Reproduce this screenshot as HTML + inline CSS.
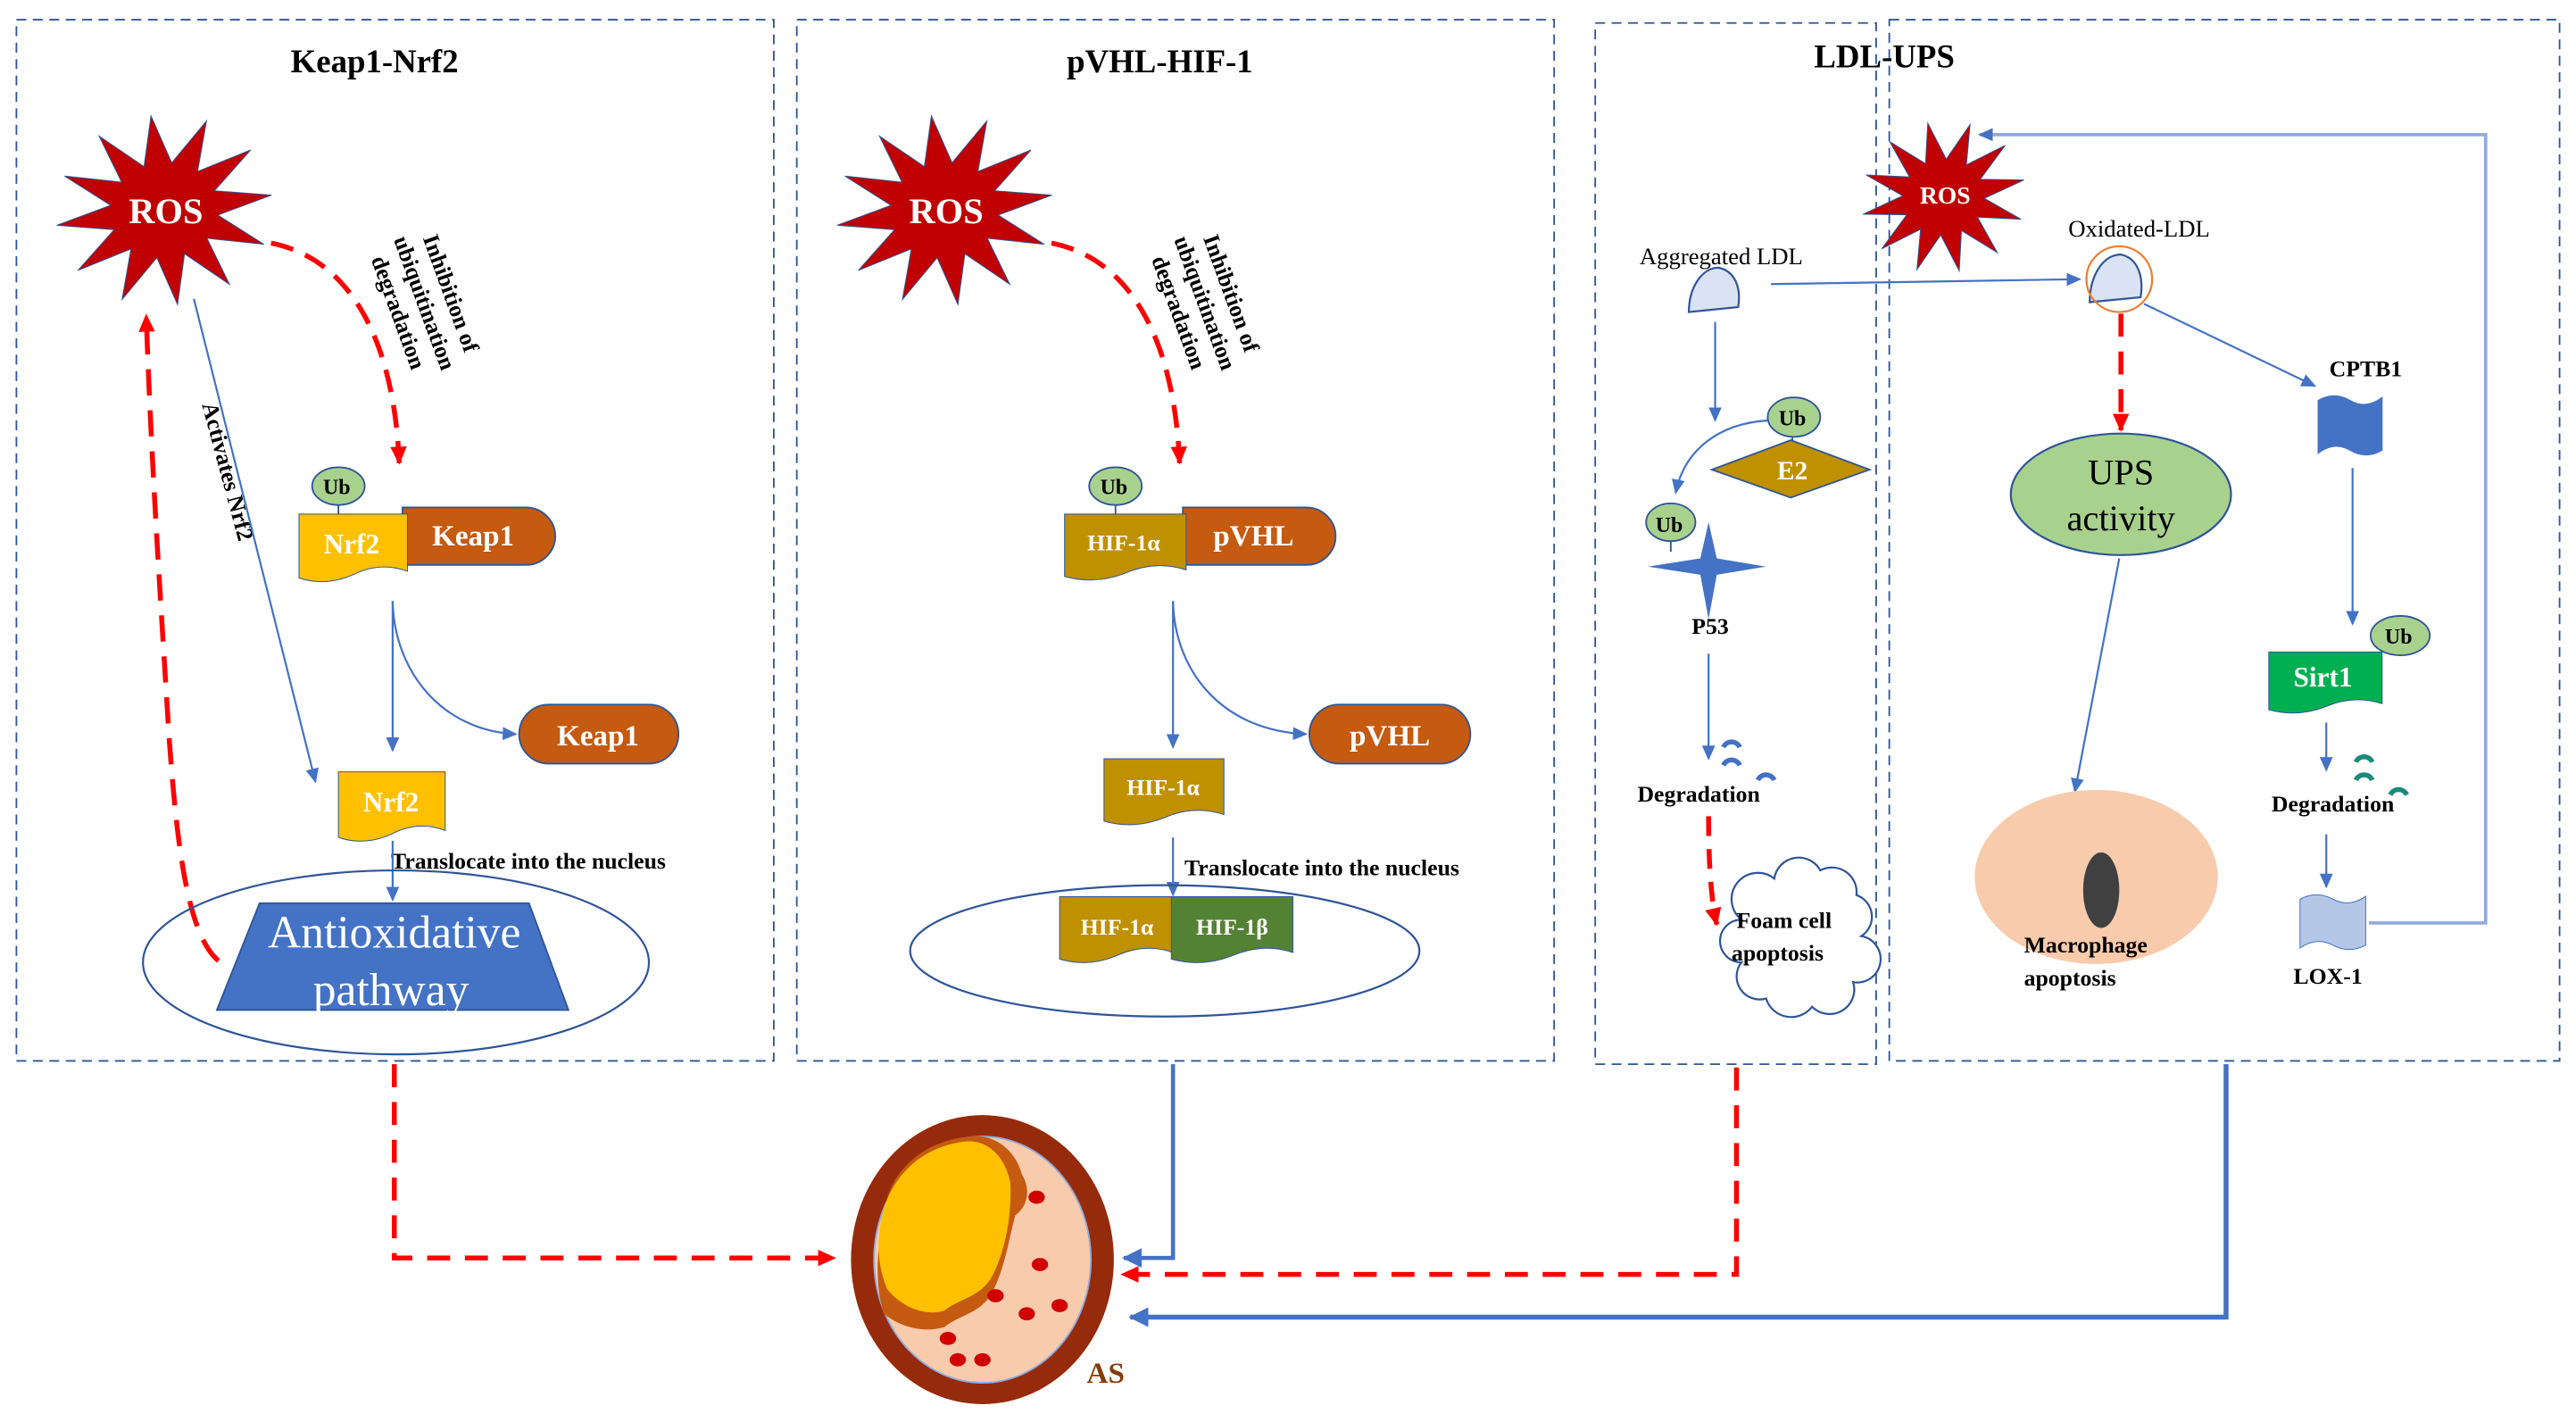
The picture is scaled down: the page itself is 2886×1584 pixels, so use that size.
<!DOCTYPE html>
<html><head><meta charset="utf-8"><style>
html,body{margin:0;padding:0;background:#fff;}
svg{display:block;}
text{font-family:"Liberation Serif",serif;}
</style></head><body>
<svg width="2886" height="1584" viewBox="0 0 1568 861" preserveAspectRatio="none" xmlns="http://www.w3.org/2000/svg">
<defs>
<marker id="ab" markerWidth="10" markerHeight="10" refX="8" refY="5" orient="auto" markerUnits="userSpaceOnUse"><path d="M0,1 L9,5 L0,9 Z" fill="#4472c4"/></marker>
<marker id="ar" markerWidth="12" markerHeight="12" refX="10" refY="6" orient="auto" markerUnits="userSpaceOnUse"><path d="M0,1 L11,6 L0,11 Z" fill="#ff0000"/></marker>
<marker id="abb" markerWidth="14" markerHeight="14" refX="11" refY="7" orient="auto" markerUnits="userSpaceOnUse"><path d="M0,1 L12,7 L0,13 Z" fill="#4472c4"/></marker>
<polygon id="star" vector-effect="non-scaling-stroke" points="1,0 .483,.129 .866,.5 .354,.354 .5,.866 .129,.483 0,1 -.129,.483 -.5,.866 -.354,.354 -.866,.5 -.483,.129 -1,0 -.483,-.129 -.866,-.5 -.354,-.354 -.5,-.866 -.129,-.483 0,-1 .129,-.483 .5,-.866 .354,-.354 .866,-.5 .483,-.129"/>
<path id="doc" vector-effect="non-scaling-stroke" d="M0,0 H1 V.85 Q.75,.7 .5,.9 Q.25,1.08 0,.95 Z"/>
<path id="ban" vector-effect="non-scaling-stroke" d="M0,.1 Q.25,-.05 .5,.1 Q.75,.25 1,.05 V.9 Q.75,1.05 .5,.9 Q.25,.75 0,.95 Z"/>
<path id="arc" d="M-5,3 A5.5,5.5 0 0 1 5,3"/>
</defs>

<!-- panels -->
<g fill="none" stroke="#2f5597" stroke-width="1" stroke-dasharray="6,4">
<rect x="10" y="12" width="461" height="634"/>
<rect x="485" y="12" width="461" height="634"/>
<rect x="971" y="14" width="171" height="634"/>
<rect x="1150" y="12" width="408" height="634"/>
</g>
<g font-weight="bold" font-size="20" text-anchor="middle" fill="#000">
<text x="228" y="44">Keap1-Nrf2</text>
<text x="706" y="44">pVHL-HIF-1</text>
<text x="1147" y="41">LDL-UPS</text>
</g>

<!-- ===== Panel 1 ===== -->
<g transform="translate(100,128) rotate(-8) scale(66,58)" fill="#c00000" stroke="#2f5597" stroke-width="1"><use href="#star"/></g>
<text x="101" y="136" font-size="22" font-weight="bold" fill="#fff" text-anchor="middle">ROS</text>
<path d="M165,148 C215,158 240,210 243,282" fill="none" stroke="#ff0000" stroke-width="3" stroke-dasharray="14,8" marker-end="url(#ar)"/>
<g transform="translate(257,185) rotate(70)" font-size="14" font-weight="bold" text-anchor="middle"><text x="0" y="-14">Inhibition  of</text><text x="0" y="3">ubiquitination</text><text x="0" y="20">degradation</text></g>
<g transform="translate(139,287) rotate(75)" font-size="14" font-weight="bold" text-anchor="middle"><text x="0" y="5">Activates  Nrf2</text></g>
<line x1="118" y1="182" x2="192" y2="476" stroke="#4472c4" stroke-width="1.2" marker-end="url(#ab)"/>
<path d="M133,585 C115,570 108,520 103,450 C98,370 92,280 89,192" fill="none" stroke="#ff0000" stroke-width="3" stroke-dasharray="16,9" marker-end="url(#ar)"/>
<line x1="206" y1="307" x2="206" y2="314" stroke="#2f5597"/>
<ellipse cx="206" cy="296" rx="16" ry="11.5" fill="#a9d18e" stroke="#2f5597"/>
<text x="205" y="301" font-size="13" font-weight="bold" text-anchor="middle">Ub</text>
<path d="M245,309 H320 A18,17.5 0 0 1 320,344 H245 Z" fill="#c55a11" stroke="#2f5597"/>
<g transform="translate(182,313) scale(66,41)" fill="#ffc000" stroke="#2f5597"><use href="#doc"/></g>
<text x="214" y="337" font-size="17" font-weight="bold" fill="#fff" text-anchor="middle">Nrf2</text>
<text x="288" y="332" font-size="18" font-weight="bold" fill="#fff" text-anchor="middle">Keap1</text>
<line x1="239" y1="366" x2="239" y2="457" stroke="#4472c4" stroke-width="1.2" marker-end="url(#ab)"/>
<path d="M239,366 C240,410 270,445 314,447" fill="none" stroke="#4472c4" stroke-width="1.2" marker-end="url(#ab)"/>
<rect x="316" y="429" width="97" height="36" rx="18" fill="#c55a11" stroke="#2f5597"/>
<text x="364" y="454" font-size="18" font-weight="bold" fill="#fff" text-anchor="middle">Keap1</text>
<g transform="translate(206,470) scale(65,42)" fill="#ffc000" stroke="#2f5597"><use href="#doc"/></g>
<text x="238" y="494" font-size="17" font-weight="bold" fill="#fff" text-anchor="middle">Nrf2</text>
<text x="238" y="529" font-size="14" font-weight="bold">Translocate  into the nucleus</text>
<line x1="239" y1="512" x2="239" y2="548" stroke="#4472c4" stroke-width="1.2" marker-end="url(#ab)"/>
<ellipse cx="241" cy="586" rx="154" ry="56" fill="none" stroke="#2f5597" stroke-width="1.2"/>
<polygon points="158,550 322,550 346,615 132,615" fill="#4472c4" stroke="#2f5597"/>
<text x="240" y="577" font-size="28" fill="#fff" text-anchor="middle">Antioxidative</text>
<text x="238" y="612" font-size="28" fill="#fff" text-anchor="middle">pathway</text>

<!-- ===== Panel 2 ===== -->
<g transform="translate(575,128) rotate(-8) scale(66,58)" fill="#c00000" stroke="#2f5597" stroke-width="1"><use href="#star"/></g>
<text x="576" y="136" font-size="22" font-weight="bold" fill="#fff" text-anchor="middle">ROS</text>
<path d="M640,148 C690,158 715,210 718,282" fill="none" stroke="#ff0000" stroke-width="3" stroke-dasharray="14,8" marker-end="url(#ar)"/>
<g transform="translate(732,185) rotate(70)" font-size="14" font-weight="bold" text-anchor="middle"><text x="0" y="-14">Inhibition  of</text><text x="0" y="3">ubiquitination</text><text x="0" y="20">degradation</text></g>
<line x1="679" y1="307" x2="679" y2="314" stroke="#2f5597"/>
<ellipse cx="679" cy="296" rx="16" ry="11.5" fill="#a9d18e" stroke="#2f5597"/>
<text x="678" y="301" font-size="13" font-weight="bold" text-anchor="middle">Ub</text>
<path d="M720,309 H795 A18,17.5 0 0 1 795,344 H720 Z" fill="#c55a11" stroke="#2f5597"/>
<g transform="translate(648,313) scale(74,40)" fill="#bf9000" stroke="#2f5597"><use href="#doc"/></g>
<text x="684" y="335" font-size="14" font-weight="bold" fill="#fff" text-anchor="middle">HIF-1α</text>
<text x="763" y="332" font-size="18" font-weight="bold" fill="#fff" text-anchor="middle">pVHL</text>
<line x1="714" y1="366" x2="714" y2="455" stroke="#4472c4" stroke-width="1.2" marker-end="url(#ab)"/>
<path d="M714,366 C715,410 745,445 795,447" fill="none" stroke="#4472c4" stroke-width="1.2" marker-end="url(#ab)"/>
<rect x="797" y="429" width="98" height="36" rx="18" fill="#c55a11" stroke="#2f5597"/>
<text x="846" y="454" font-size="18" font-weight="bold" fill="#fff" text-anchor="middle">pVHL</text>
<g transform="translate(672,462) scale(73,40)" fill="#bf9000" stroke="#2f5597"><use href="#doc"/></g>
<text x="708" y="484" font-size="14" font-weight="bold" fill="#fff" text-anchor="middle">HIF-1α</text>
<text x="721" y="533" font-size="14" font-weight="bold">Translocate  into the nucleus</text>
<line x1="714" y1="510" x2="714" y2="545" stroke="#4472c4" stroke-width="1.2" marker-end="url(#ab)"/>
<ellipse cx="709" cy="579" rx="155" ry="40" fill="none" stroke="#2f5597" stroke-width="1.2"/>
<g transform="translate(645,546) scale(69,40)" fill="#bf9000" stroke="#2f5597"><use href="#doc"/></g>
<g transform="translate(713,546) scale(74,40)" fill="#548235" stroke="#2f5597"><use href="#doc"/></g>
<text x="680" y="569" font-size="14" font-weight="bold" fill="#fff" text-anchor="middle">HIF-1α</text>
<text x="750" y="569" font-size="14" font-weight="bold" fill="#fff" text-anchor="middle">HIF-1β</text>

<!-- ===== Panel 3/4 ===== -->
<path d="M1442,562 H1513 V82 H1205" fill="none" stroke="#8faadc" stroke-width="2" marker-end="url(#ab)"/>
<g transform="translate(1183,120) rotate(-12) scale(50,46)" fill="#c00000" stroke="#2f5597" stroke-width="1"><use href="#star"/></g>
<text x="1184" y="124" font-size="15" font-weight="bold" fill="#fff" text-anchor="middle">ROS</text>
<text x="998" y="161" font-size="14.5">Aggregated LDL</text>
<text x="1259" y="144" font-size="14.5">Oxidated-LDL</text>
<path d="M1028,190 C1028,175 1036,163 1046,163 C1056,165 1060,175 1058,187 Z" fill="#dae3f3" stroke="#2f5597" stroke-width="1.2"/>
<line x1="1078" y1="173" x2="1266" y2="170" stroke="#4472c4" stroke-width="1.2" marker-end="url(#ab)"/>
<path d="M1272,184 C1272,168 1280,155 1291,155 C1301,157 1305,168 1303,181 Z" fill="#dae3f3" stroke="#2f5597" stroke-width="1.2"/>
<circle cx="1290" cy="170" r="20" fill="none" stroke="#ed7d31" stroke-width="1.2"/>
<line x1="1044" y1="196" x2="1044" y2="256" stroke="#4472c4" stroke-width="1.2" marker-end="url(#ab)"/>
<line x1="1091" y1="265" x2="1091" y2="272" stroke="#2f5597"/>
<polygon points="1090,268 1138,286 1090,303 1042,286" fill="#bf9000" stroke="#2f5597"/>
<text x="1091" y="292" font-size="16" font-weight="bold" fill="#fff" text-anchor="middle">E2</text>
<ellipse cx="1092" cy="254" rx="16" ry="12" fill="#a9d18e" stroke="#2f5597"/>
<text x="1091" y="259" font-size="13" font-weight="bold" text-anchor="middle">Ub</text>
<path d="M1076,256 C1045,258 1025,275 1020,300" fill="none" stroke="#4472c4" stroke-width="1.2" marker-end="url(#ab)"/>
<polygon points="1040,318 1045,340 1075,345 1045,350 1040,377 1035,350 1003,345 1035,340" fill="#4472c4"/>
<line x1="1017" y1="328" x2="1017" y2="336" stroke="#2f5597"/>
<ellipse cx="1017" cy="318" rx="15" ry="11.5" fill="#a9d18e" stroke="#2f5597"/>
<text x="1016" y="324" font-size="13" font-weight="bold" text-anchor="middle">Ub</text>
<text x="1041" y="386" font-size="14" font-weight="bold" text-anchor="middle">P53</text>
<line x1="1040" y1="398" x2="1040" y2="462" stroke="#4472c4" stroke-width="1.2" marker-end="url(#ab)"/>
<g fill="none" stroke="#4472c4" stroke-width="3"><use href="#arc" x="1054" y="452"/><use href="#arc" x="1054" y="463"/><use href="#arc" x="1075" y="472"/></g>
<text x="1034" y="488" font-size="14" font-weight="bold" text-anchor="middle">Degradation</text>
<path d="M1040,497 C1040,530 1042,550 1045,563" fill="none" stroke="#ff0000" stroke-width="3" stroke-dasharray="12,8" marker-end="url(#ar)"/>
<path d="M1060,560 a15,15 0 0 1 20,-25 a15,15 0 0 1 28,-5 a15,15 0 0 1 22,15 a14,14 0 0 1 3,25 a14,14 0 0 1 -5,28 a15,15 0 0 1 -25,15 a16,16 0 0 1 -28,-5 a14,14 0 0 1 -15,-22 a13,13 0 0 1 0,-26 Z" fill="#fff" stroke="#2f5597" stroke-width="1.2"/>
<text x="1086" y="565" font-size="14" font-weight="bold" text-anchor="middle">Foam  cell</text>
<text x="1082" y="585" font-size="14" font-weight="bold" text-anchor="middle">apoptosis</text>

<path d="M1291,191 V262" fill="none" stroke="#ff0000" stroke-width="3" stroke-dasharray="14,9" marker-end="url(#ar)"/>
<ellipse cx="1291" cy="301" rx="67" ry="37" fill="#a9d18e" stroke="#2f5597" stroke-width="1.2"/>
<text x="1291" y="295" font-size="22" text-anchor="middle">UPS</text>
<text x="1291" y="323" font-size="22" text-anchor="middle">activity</text>
<line x1="1290" y1="340" x2="1263" y2="482" stroke="#4472c4" stroke-width="1.2" marker-end="url(#ab)"/>
<ellipse cx="1276" cy="534" rx="74" ry="53" fill="#f8cbad"/>
<ellipse cx="1279" cy="542" rx="11" ry="23" fill="#404040"/>
<text x="1232" y="580" font-size="14" font-weight="bold">Macrophage</text>
<text x="1232" y="600" font-size="14" font-weight="bold">apoptosis</text>
<line x1="1305" y1="185" x2="1409" y2="235" stroke="#4472c4" stroke-width="1.2" marker-end="url(#ab)"/>
<text x="1440" y="229" font-size="14" font-weight="bold" text-anchor="middle">CPTB1</text>
<g transform="translate(1411,240) scale(39,38)" fill="#4472c4" stroke="#4472c4"><use href="#ban"/></g>
<line x1="1432" y1="285" x2="1432" y2="380" stroke="#4472c4" stroke-width="1.2" marker-end="url(#ab)"/>
<g transform="translate(1381,397) scale(69,37)" fill="#00b050" stroke="#2f5597"><use href="#doc"/></g>
<text x="1414" y="418" font-size="17" font-weight="bold" fill="#fff" text-anchor="middle">Sirt1</text>
<ellipse cx="1461" cy="387" rx="18" ry="12" fill="#a9d18e" stroke="#2f5597"/>
<text x="1460" y="392" font-size="13" font-weight="bold" text-anchor="middle">Ub</text>
<line x1="1416" y1="440" x2="1416" y2="469" stroke="#4472c4" stroke-width="1.2" marker-end="url(#ab)"/>
<g fill="none" stroke="#1b8a7c" stroke-width="3"><use href="#arc" x="1439" y="461"/><use href="#arc" x="1439" y="472"/><use href="#arc" x="1460" y="481"/></g>
<text x="1420" y="494" font-size="14" font-weight="bold" text-anchor="middle">Degradation</text>
<line x1="1416" y1="508" x2="1416" y2="540" stroke="#4472c4" stroke-width="1.2" marker-end="url(#ab)"/>
<g transform="translate(1400,544) scale(40,35)" fill="#b4c7e7" stroke="#4472c4"><use href="#ban"/></g>
<text x="1417" y="599" font-size="14" font-weight="bold" text-anchor="middle">LOX-1</text>

<!-- bottom connectors -->
<path d="M240,648 V766 H508" fill="none" stroke="#ff0000" stroke-width="3" stroke-dasharray="14,9" marker-end="url(#ar)"/>
<path d="M714,648 V766 H684" fill="none" stroke="#4472c4" stroke-width="2.5" marker-end="url(#abb)"/>
<path d="M1057,650 V776 H683" fill="none" stroke="#ff0000" stroke-width="3" stroke-dasharray="14,9" marker-end="url(#ar)"/>
<path d="M1355,648 V802 H688" fill="none" stroke="#4472c4" stroke-width="3" marker-end="url(#abb)"/>

<!-- AS vessel -->
<ellipse cx="598" cy="767" rx="80" ry="88" fill="#962b0c"/>
<ellipse cx="598" cy="767" rx="66" ry="75" fill="#f8cbad" stroke="#8faadc" stroke-width="1"/>
<path d="M538,740 C540,715 560,695 590,692 C605,690 618,700 622,715 C628,725 625,735 618,740 C614,755 612,770 605,785 C598,800 585,800 575,808 C562,812 548,808 538,800 C532,780 534,760 538,740 Z" fill="#c55a11"/>
<path d="M536,745 C540,718 560,698 588,695 C602,694 612,705 615,720 C616,740 612,760 605,775 C598,790 585,790 575,798 C562,802 548,795 540,785 C534,770 534,758 536,745 Z" fill="#ffc000"/>
<g fill="#d00000"><ellipse cx="631" cy="729" rx="5" ry="4"/><ellipse cx="633" cy="770" rx="5" ry="4"/><ellipse cx="606" cy="789" rx="5" ry="4"/><ellipse cx="625" cy="800" rx="5" ry="4"/><ellipse cx="645" cy="795" rx="5" ry="4"/><ellipse cx="577" cy="815" rx="5" ry="4"/><ellipse cx="583" cy="828" rx="5" ry="4"/><ellipse cx="598" cy="828" rx="5" ry="4"/></g>
<text x="673" y="842" font-size="18" font-weight="bold" fill="#843c0c" text-anchor="middle">AS</text>
</svg>
</body></html>
